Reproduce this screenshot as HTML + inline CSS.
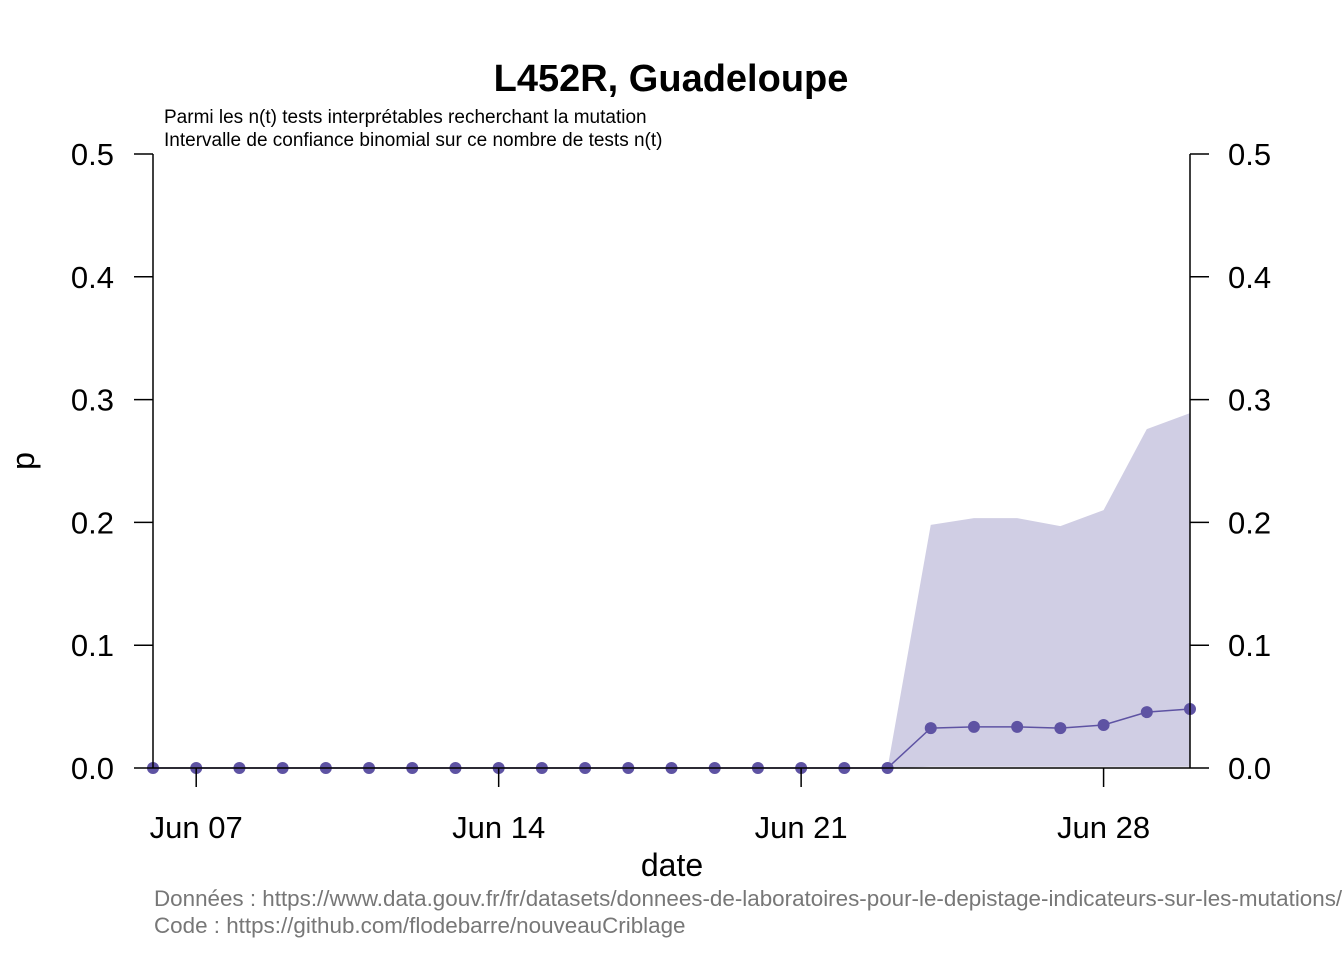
<!DOCTYPE html>
<html><head><meta charset="utf-8"><style>
body{margin:0;background:#fff;}
svg text{font-family:"Liberation Sans",Arial,sans-serif;}
</style></head><body>
<svg id="chart" width="1344" height="960" xmlns="http://www.w3.org/2000/svg">
<text x="671" y="91" text-anchor="middle" font-size="38" font-weight="bold">L452R, Guadeloupe</text>
<text x="164" y="123" font-size="19">Parmi les n(t) tests interprétables recherchant la mutation</text>
<text x="164" y="146" font-size="19">Intervalle de confiance binomial sur ce nombre de tests n(t)</text>
<g id="band"></g>
<g id="line"></g>
<g id="axes"></g>
<text x="672" y="876" text-anchor="middle" font-size="32">date</text>
<text transform="translate(34,461) rotate(-90)" text-anchor="middle" font-size="32">p</text>
<text x="154" y="906" font-size="22.4" fill="#777">Données : https://www.data.gouv.fr/fr/datasets/donnees-de-laboratoires-pour-le-depistage-indicateurs-sur-les-mutations/</text>
<text x="154" y="933" font-size="22.4" fill="#777">Code : https://github.com/flodebarre/nouveauCriblage</text>
</svg>
<script>
const dayNums = [6,7,8,9,10,11,12,13,14,15,16,17,18,19,20,21,22,23,24,25,26,27,28,29,30];
const pValues = [0,0,0,0,0,0,0,0,0,0,0,0,0,0,0,0,0,0,0.0325,0.0335,0.0335,0.0325,0.035,0.0455,0.048];
const upperCI = [0,0,0,0,0,0,0,0,0,0,0,0,0,0,0,0,0,0,0.198,0.2035,0.2035,0.197,0.21,0.276,0.289];
const lowerCI = [0,0,0,0,0,0,0,0,0,0,0,0,0,0,0,0,0,0,0.001,0.001,0.001,0.001,0.001,0.001,0.001];
const yTicks = [0,0.1,0.2,0.3,0.4,0.5];
const xTickDays = [7,14,21,28];
const xTickLabels = ["Jun 07","Jun 14","Jun 21","Jun 28"];

const NS="http://www.w3.org/2000/svg";
const X0=153,X1=1190,Y0=768,Y1=154;
const xs=d=>X0+(d-6)*(X1-X0)/24;
const ys=v=>Y0-v*(Y0-Y1)/0.5;
function mk(tag,attrs,parent){const e=document.createElementNS(NS,tag);for(const k in attrs)e.setAttribute(k,attrs[k]);parent.appendChild(e);return e;}

const band=document.getElementById('band');
let pts=dayNums.map((d,i)=>xs(d)+','+ys(upperCI[i]));
for(let i=dayNums.length-1;i>=0;i--)pts.push(xs(dayNums[i])+','+ys(lowerCI[i]));
const poly=mk('polygon',{points:pts.join(' '),fill:'#d0cee4'},band);



const line=document.getElementById('line');
const pl=mk('polyline',{points:dayNums.map((d,i)=>xs(d)+','+ys(pValues[i])).join(' '),fill:'none',stroke:'#5e53a3','stroke-width':1.5},line);


dayNums.forEach((d,i)=>{
  const c=mk('circle',{cx:xs(d),cy:ys(pValues[i]),r:6,fill:'#5e53a3'},line);
  
  
});

const ax=document.getElementById('axes');
mk('line',{x1:X0,y1:Y1,x2:X0,y2:Y0,stroke:'#000','stroke-width':1.5},ax);
mk('line',{x1:X1,y1:Y1,x2:X1,y2:Y0,stroke:'#000','stroke-width':1.5},ax);
mk('line',{x1:X0,y1:Y0,x2:X1,y2:Y0,stroke:'#000','stroke-width':1.5},ax);
yTicks.forEach(v=>{
  const y=ys(v);
  mk('line',{x1:X0-19,y1:y,x2:X0,y2:y,stroke:'#000','stroke-width':1.5},ax);
  mk('line',{x1:X1,y1:y,x2:X1+19,y2:y,stroke:'#000','stroke-width':1.5},ax);
  const t1=mk('text',{x:114,y:y+11,'text-anchor':'end','font-size':31},ax);t1.textContent=v.toFixed(1);
  
  
  const t2=mk('text',{x:1228,y:y+11,'text-anchor':'start','font-size':31},ax);t2.textContent=v.toFixed(1);
  
  
});
xTickDays.forEach((d,i)=>{
  const x=xs(d);
  mk('line',{x1:x,y1:Y0,x2:x,y2:Y0+19,stroke:'#000','stroke-width':1.5},ax);
  const t=mk('text',{x:x,y:838,'text-anchor':'middle','font-size':31},ax);t.textContent=xTickLabels[i];
  
  
});
</script>
</body></html>
